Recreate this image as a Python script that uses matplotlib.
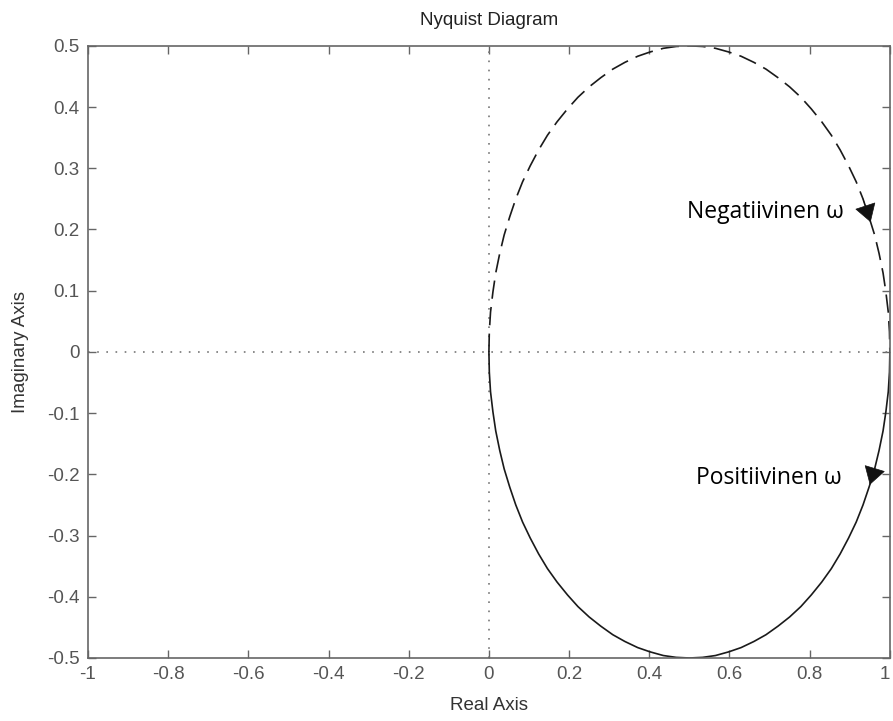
import numpy as np
import matplotlib
matplotlib.use('Agg')
import matplotlib.pyplot as plt
from matplotlib.transforms import ScaledTranslation

# G(jw) points, w > 0 branch (solid), starting at w = 0
re_pos = [1.000, 0.999, 0.996, 0.990, 0.983, 0.973, 0.962, 0.950, 0.948, 0.933, 0.916, 0.897, 0.876,
          0.854, 0.830, 0.804, 0.778, 0.750, 0.721, 0.691, 0.661, 0.629, 0.598, 0.565, 0.533,
          0.500, 0.467, 0.435, 0.402, 0.371, 0.339, 0.309, 0.279, 0.250, 0.222, 0.196, 0.170,
          0.146, 0.124, 0.103, 0.084, 0.067, 0.052, 0.038, 0.027, 0.017, 0.010, 0.004, 0.001, 0.000]
im_pos = [0.000, -0.033, -0.065, -0.098, -0.129, -0.161, -0.191, -0.217, -0.221, -0.250, -0.278, -0.304, -0.330,
          -0.354, -0.376, -0.397, -0.416, -0.433, -0.448, -0.462, -0.473, -0.483, -0.490, -0.496, -0.499,
          -0.500, -0.499, -0.496, -0.490, -0.483, -0.473, -0.462, -0.448, -0.433, -0.416, -0.397, -0.376,
          -0.354, -0.330, -0.304, -0.278, -0.250, -0.221, -0.191, -0.161, -0.129, -0.098, -0.065, -0.033, 0.000]

# w < 0 branch (dashed), starting at w = -inf
re_neg = [0.000, 0.001, 0.004, 0.010, 0.017, 0.027, 0.038, 0.052, 0.067, 0.084, 0.103, 0.124, 0.146,
          0.170, 0.196, 0.222, 0.250, 0.279, 0.309, 0.339, 0.371, 0.402, 0.435, 0.467, 0.500,
          0.533, 0.565, 0.598, 0.629, 0.661, 0.691, 0.721, 0.750, 0.778, 0.804, 0.830, 0.854,
          0.876, 0.897, 0.916, 0.933, 0.952, 0.962, 0.973, 0.983, 0.990, 0.996, 0.999, 1.000]
im_neg = [0.000, 0.033, 0.065, 0.098, 0.129, 0.161, 0.191, 0.221, 0.250, 0.278, 0.304, 0.330, 0.354,
          0.376, 0.397, 0.416, 0.433, 0.448, 0.462, 0.473, 0.483, 0.490, 0.496, 0.499, 0.500,
          0.499, 0.496, 0.490, 0.483, 0.473, 0.462, 0.448, 0.433, 0.416, 0.397, 0.376, 0.354,
          0.330, 0.304, 0.278, 0.250, 0.212, 0.191, 0.161, 0.129, 0.098, 0.065, 0.033, 0.000]

i_arr_pos = 7    # nuolen kohta
i_arr_neg = 41

xticks = [-1, -0.8, -0.6, -0.4, -0.2, 0, 0.2, 0.4, 0.6, 0.8, 1]
yticks = [-0.5, -0.4, -0.3, -0.2, -0.1, 0, 0.1, 0.2, 0.3, 0.4, 0.5]

gray = '#666666'
fig = plt.figure(figsize=(8.93, 7.21), dpi=100)
ax = fig.add_axes([0.0985, 0.0874, 0.898, 0.849])

ax.plot([-1, 1], [0, 0], color='#777777', lw=1.2, ls=(0, (1, 4.5)))
ax.plot([0, 0], [-0.5, 0.5], color='#777777', lw=1.2, ls=(0, (1, 4.5)))

ax.plot(re_pos, im_pos, color='#1a1a1a', lw=1.2)
ax.plot(re_neg, im_neg, color='#1a1a1a', lw=1.2, ls=(0, (11, 5)))

def nuoli(re, im, i):
    ax.annotate('', xy=(re[i], im[i]), xytext=(re[i-1], im[i-1]),
                arrowprops=dict(arrowstyle='-|>,head_length=0.9,head_width=0.55', color='#111111',
                                lw=0.5, shrinkA=0, shrinkB=0, mutation_scale=13))

nuoli(re_pos, im_pos, i_arr_pos)
nuoli(re_neg, im_neg, i_arr_neg)

ax.annotate('Negatiivinen ω', xy=(re_neg[i_arr_neg], im_neg[i_arr_neg]), xytext=(-19, 7),
            textcoords='offset points', ha='right', va='center', fontsize=16.5, family='Open Sans')
ax.annotate('Positiivinen ω', xy=(re_pos[i_arr_pos], im_pos[i_arr_pos]), xytext=(-20, 5),
            textcoords='offset points', ha='right', va='center', fontsize=16.5, family='Open Sans')

ax.set_xlim(-1, 1)
ax.set_ylim(-0.5, 0.5)
ax.set_xticks(xticks)
ax.set_yticks(yticks)
ax.set_xticklabels(['%g' % v for v in xticks])
ax.set_yticklabels(['%g' % v for v in yticks])
ax.tick_params(direction='in', length=6, width=1, color=gray, labelcolor='#555555', labelsize=13.5,
               top=True, right=True, pad=6)
for s in ax.spines.values():
    s.set_color(gray)
    s.set_linewidth(1.2)

ax.set_xlabel('Real Axis', fontsize=13.5, color='#333333', family='Liberation Sans', labelpad=10)
ax.set_ylabel('Imaginary Axis', fontsize=13.5, color='#333333', family='Liberation Sans', labelpad=13)
ax.set_title('Nyquist Diagram', fontsize=13.5, color='#222222', family='Liberation Sans', pad=15)
for t in ax.get_xticklabels() + ax.get_yticklabels():
    t.set_family('Liberation Sans')

# viimeinen x-tikki reunalla, siirretään hieman vasemmalle
last = ax.get_xticklabels()[-1]
last.set_transform(last.get_transform() + ScaledTranslation(-4 / 72, 0, fig.dpi_scale_trans))

fig.savefig('out.png', dpi=100)
